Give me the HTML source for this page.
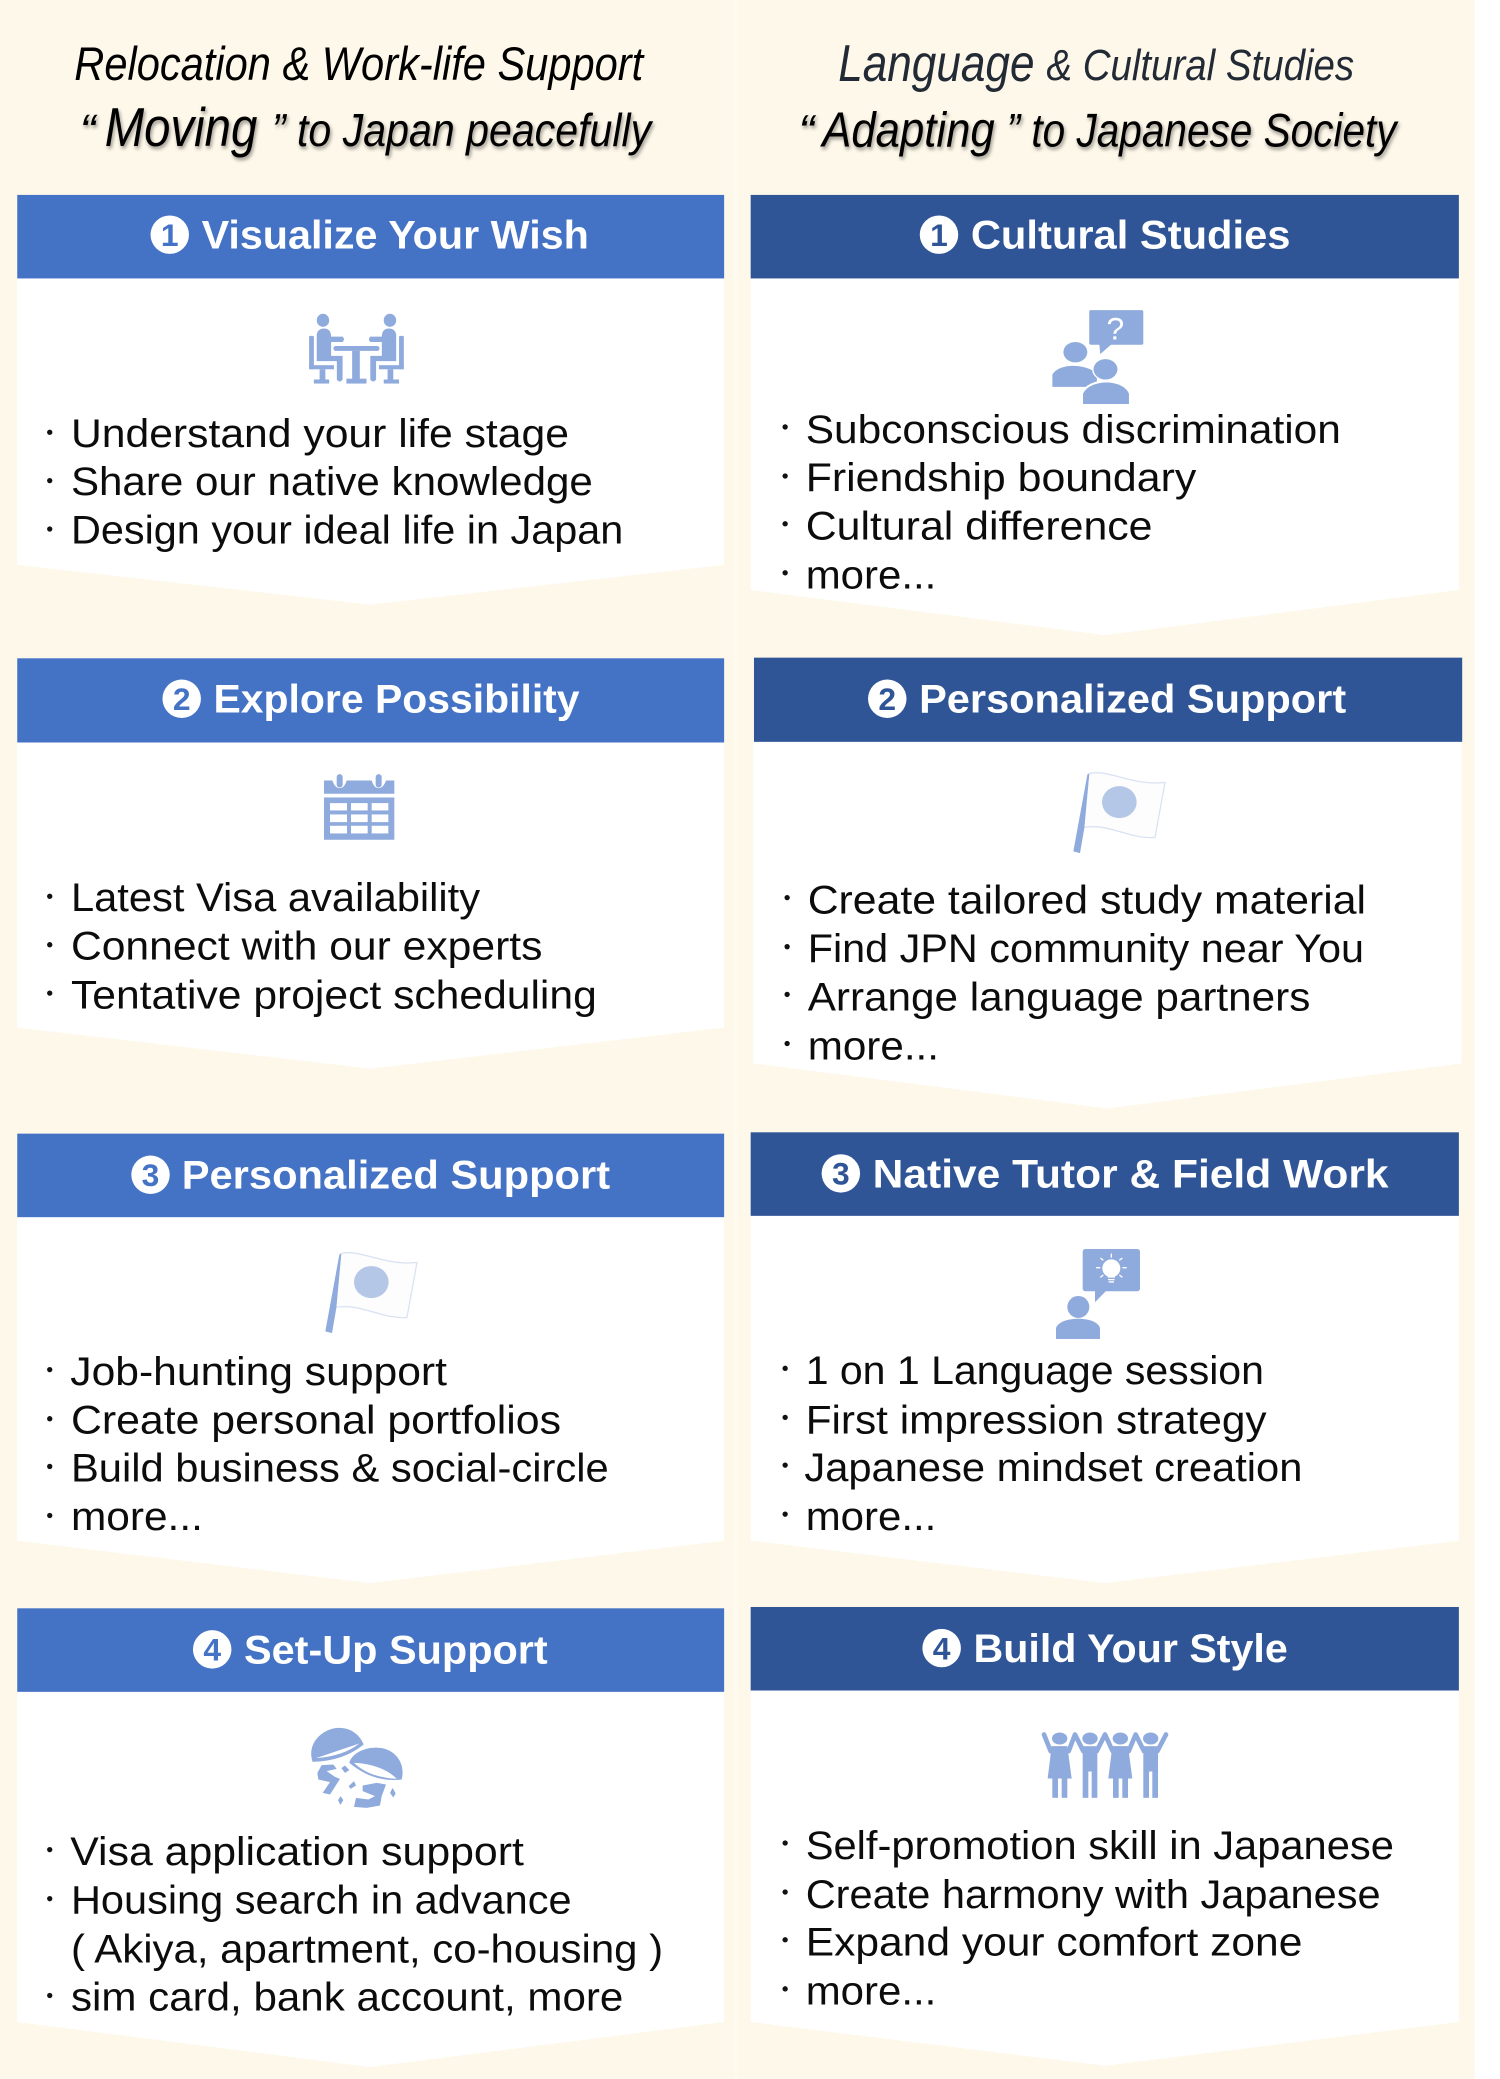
<!DOCTYPE html>
<html><head><meta charset="utf-8"><title>Support</title>
<style>
html,body{margin:0;padding:0;background:#fff}
svg{display:block;position:absolute;left:0;top:0}
text{font-family:"Liberation Sans",sans-serif}
.b{font-size:30px;fill:#0c0c0c}
.h{font-size:30px;font-weight:700;fill:#fff}
.n{font-size:24px;font-weight:700;text-anchor:middle}
.t{font-style:italic;fill:#000}
.s{filter:drop-shadow(1.5px 2px 1.5px rgba(0,0,0,.4))}
.i{fill:#8FAADC}
</style></head><body>
<svg xmlns="http://www.w3.org/2000/svg" width="1500" height="2079" viewBox="0 0 1131 1568" preserveAspectRatio="none">
<rect width="1131" height="1568" fill="#fff"/>
<rect width="1112" height="1568" fill="#FEF8EA"/>
<rect x="553" width="3" height="1568" fill="#FFFAF0"/>

<!-- headings -->
<text class="t" x="56" y="60.5" font-size="36" textLength="429" lengthAdjust="spacingAndGlyphs">Relocation &amp; Work-life Support</text>
<g class="s">
<text class="t" x="60" y="110" font-size="34" textLength="12" lengthAdjust="spacingAndGlyphs">“</text>
<text class="t" x="79" y="110" font-size="41" textLength="115" lengthAdjust="spacingAndGlyphs">Moving</text>
<text class="t" x="205" y="110" font-size="35" textLength="286" lengthAdjust="spacingAndGlyphs">” to Japan peacefully</text>
</g>
<text class="t" style="fill:#222A35" x="632" y="61" font-size="39" textLength="148" lengthAdjust="spacingAndGlyphs">Language</text>
<text class="t" style="fill:#222A35" x="789" y="60.500" font-size="33" textLength="232" lengthAdjust="spacingAndGlyphs">&amp; Cultural Studies</text>
<g class="s">
<text class="t" x="602" y="110.500" font-size="34" textLength="12" lengthAdjust="spacingAndGlyphs">“</text>
<text class="t" x="620" y="110.500" font-size="37" textLength="130" lengthAdjust="spacingAndGlyphs">Adapting</text>
<text class="t" x="759" y="110.500" font-size="36" textLength="294" lengthAdjust="spacingAndGlyphs">” to Japanese Society</text>
</g>

<!-- white card bodies -->
<g fill="#fff">
<polygon points="13,210 546,210 546,426 279,456 13,426"/>
<polygon points="13,560 546,560 546,775 279,806 13,775"/>
<polygon points="13,918 546,918 546,1162 279,1194 13,1162"/>
<polygon points="13,1276 546,1276 546,1525 279,1559 13,1525"/>
<polygon points="566,210 1100,210 1100,445 833,479 566,445"/>
<polygon points="568,559 1102,559 1102,802 835,836 568,802"/>
<polygon points="566,917 1100,917 1100,1162 833,1194 566,1162"/>
<polygon points="566,1275 1100,1275 1100,1525 833,1558 566,1525"/>
</g>

<!-- banners -->
<g fill="#4472C4">
<rect x="13" y="147" width="533" height="63"/>
<rect x="13" y="496.500" width="533" height="63.500"/>
<rect x="13" y="855" width="533" height="63"/>
<rect x="13" y="1213" width="533" height="63"/>
</g>
<g fill="#2F5597">
<rect x="566" y="147" width="534" height="63"/>
<rect x="568.500" y="496" width="534" height="63.500"/>
<rect x="566" y="854" width="534" height="63"/>
<rect x="566" y="1212" width="534" height="63"/>
</g>

<!-- banner labels -->
<g fill="#fff">
<circle cx="128" cy="177" r="14.500"/><circle cx="137" cy="527" r="14.500"/><circle cx="113.500" cy="886" r="14.500"/><circle cx="160" cy="1244" r="14.500"/>
<circle cx="708" cy="177" r="14.500"/><circle cx="669" cy="527" r="14.500"/><circle cx="634" cy="885" r="14.500"/><circle cx="710" cy="1243" r="14.500"/>
</g>
<g>
<text class="n" fill="#4472C4" x="128" y="185.500">1</text>
<text class="n" fill="#4472C4" x="137" y="535.500">2</text>
<text class="n" fill="#4472C4" x="113.500" y="894.500">3</text>
<text class="n" fill="#4472C4" x="160" y="1252.500">4</text>
<text class="n" fill="#2F5597" x="708" y="185.500">1</text>
<text class="n" fill="#2F5597" x="669" y="535.500">2</text>
<text class="n" fill="#2F5597" x="634" y="893.500">3</text>
<text class="n" fill="#2F5597" x="710" y="1251.500">4</text>
</g>
<text class="h" x="152" y="187.500" textLength="292" lengthAdjust="spacingAndGlyphs">Visualize Your Wish</text>
<text class="h" x="161" y="537.500" textLength="276" lengthAdjust="spacingAndGlyphs">Explore Possibility</text>
<text class="h" x="137" y="896.500" textLength="323" lengthAdjust="spacingAndGlyphs">Personalized Support</text>
<text class="h" x="184" y="1254.500" textLength="229" lengthAdjust="spacingAndGlyphs">Set-Up Support</text>
<text class="h" x="732" y="187.500" textLength="241" lengthAdjust="spacingAndGlyphs">Cultural Studies</text>
<text class="h" x="693" y="537.500" textLength="322" lengthAdjust="spacingAndGlyphs">Personalized Support</text>
<text class="h" x="658" y="895.500" textLength="389" lengthAdjust="spacingAndGlyphs">Native Tutor &amp; Field Work</text>
<text class="h" x="734" y="1253.500" textLength="237" lengthAdjust="spacingAndGlyphs">Build Your Style</text>

<!-- bullets -->
<g fill="#111">
<circle cx="37.500" cy="326" r="2"/><circle cx="37.500" cy="362.500" r="2"/><circle cx="37.500" cy="399" r="2"/>
<circle cx="37.500" cy="676" r="2"/><circle cx="37.500" cy="712.500" r="2"/><circle cx="37.500" cy="749" r="2"/>
<circle cx="37.500" cy="1033" r="2"/><circle cx="37.500" cy="1070" r="2"/><circle cx="37.500" cy="1106" r="2"/><circle cx="37.500" cy="1143" r="2"/>
<circle cx="37.500" cy="1395" r="2"/><circle cx="37.500" cy="1432" r="2"/><circle cx="37.500" cy="1505" r="2"/>
<circle cx="592" cy="322" r="2"/><circle cx="592" cy="359" r="2"/><circle cx="592" cy="395" r="2"/><circle cx="592" cy="432" r="2"/>
<circle cx="593.500" cy="677" r="2"/><circle cx="593.500" cy="714" r="2"/><circle cx="593.500" cy="750" r="2"/><circle cx="593.500" cy="787" r="2"/>
<circle cx="592" cy="1032" r="2"/><circle cx="592" cy="1069" r="2"/><circle cx="592" cy="1105" r="2"/><circle cx="592" cy="1142" r="2"/>
<circle cx="592" cy="1390" r="2"/><circle cx="592" cy="1427" r="2"/><circle cx="592" cy="1463" r="2"/><circle cx="592" cy="1500" r="2"/>
</g>

<!-- left body text -->
<text class="b" x="53.500" y="337" textLength="375.500" lengthAdjust="spacingAndGlyphs">Understand your life stage</text>
<text class="b" x="53.500" y="373.500" textLength="393.500" lengthAdjust="spacingAndGlyphs">Share our native knowledge</text>
<text class="b" x="53.500" y="410" textLength="416.500" lengthAdjust="spacingAndGlyphs">Design your ideal life in Japan</text>
<text class="b" x="53.500" y="687" textLength="308.500" lengthAdjust="spacingAndGlyphs">Latest Visa availability</text>
<text class="b" x="53.500" y="723.500" textLength="355.500" lengthAdjust="spacingAndGlyphs">Connect with our experts</text>
<text class="b" x="53.500" y="760.500" textLength="396.500" lengthAdjust="spacingAndGlyphs">Tentative project scheduling</text>
<text class="b" x="53" y="1044.500" textLength="284" lengthAdjust="spacingAndGlyphs">Job-hunting support</text>
<text class="b" x="53.500" y="1081" textLength="369.500" lengthAdjust="spacingAndGlyphs">Create personal portfolios</text>
<text class="b" x="53.500" y="1117.500" textLength="405.500" lengthAdjust="spacingAndGlyphs">Build business &amp; social-circle</text>
<text class="b" x="53.500" y="1154" textLength="99.500" lengthAdjust="spacingAndGlyphs">more...</text>
<text class="b" x="53" y="1406.500" textLength="342" lengthAdjust="spacingAndGlyphs">Visa application support</text>
<text class="b" x="53.500" y="1443" textLength="377.500" lengthAdjust="spacingAndGlyphs">Housing search in advance</text>
<text class="b" x="53.500" y="1480" textLength="446.500" lengthAdjust="spacingAndGlyphs">( Akiya, apartment, co-housing )</text>
<text class="b" x="53.500" y="1516.500" textLength="416.500" lengthAdjust="spacingAndGlyphs">sim card, bank account, more</text>

<!-- right body text -->
<text class="b" x="607.500" y="334" textLength="403.500" lengthAdjust="spacingAndGlyphs">Subconscious discrimination</text>
<text class="b" x="607.500" y="370.500" textLength="294.500" lengthAdjust="spacingAndGlyphs">Friendship boundary</text>
<text class="b" x="607.500" y="407" textLength="261.500" lengthAdjust="spacingAndGlyphs">Cultural difference</text>
<text class="b" x="607.500" y="444" textLength="98.500" lengthAdjust="spacingAndGlyphs">more...</text>
<text class="b" x="609" y="689" textLength="421" lengthAdjust="spacingAndGlyphs">Create tailored study material</text>
<text class="b" x="609" y="725.500" textLength="419.500" lengthAdjust="spacingAndGlyphs">Find JPN community near You</text>
<text class="b" x="609" y="762" textLength="379" lengthAdjust="spacingAndGlyphs">Arrange language partners</text>
<text class="b" x="609" y="799" textLength="99" lengthAdjust="spacingAndGlyphs">more...</text>
<text class="b" x="607.500" y="1044" textLength="345.500" lengthAdjust="spacingAndGlyphs">1 on 1 Language session</text>
<text class="b" x="607.500" y="1081" textLength="347.500" lengthAdjust="spacingAndGlyphs">First impression strategy</text>
<text class="b" x="606.500" y="1117" textLength="375.500" lengthAdjust="spacingAndGlyphs">Japanese mindset creation</text>
<text class="b" x="607.500" y="1154" textLength="98.500" lengthAdjust="spacingAndGlyphs">more...</text>
<text class="b" x="607.500" y="1402" textLength="443.500" lengthAdjust="spacingAndGlyphs">Self-promotion skill in Japanese</text>
<text class="b" x="607.500" y="1439" textLength="433.500" lengthAdjust="spacingAndGlyphs">Create harmony with Japanese</text>
<text class="b" x="607.500" y="1475" textLength="374.500" lengthAdjust="spacingAndGlyphs">Expand your comfort zone</text>
<text class="b" x="607.500" y="1512" textLength="98.500" lengthAdjust="spacingAndGlyphs">more...</text>

<!-- meeting icon -->
<g class="i" transform="scale(.75400) scale(.47847 .40816)">
<ellipse cx="675" cy="785" rx="13" ry="16"/><ellipse cx="815" cy="785" rx="13" ry="16"/>
<rect x="697" y="848" width="96" height="12" rx="5"/><rect x="736" y="860" width="16" height="70"/><rect x="724" y="928" width="42" height="12"/>
<path d="M662 820 Q664 805 678 805 Q692 806 692 825 H716 Q722 832 716 838 H692 V848 H692 V872 H716 V930 Q710 940 704 930 V885 H662Z"/>
<rect x="646" y="823" width="10" height="82" rx="3"/><rect x="646" y="895" width="52" height="10"/><rect x="668" y="905" width="12" height="27"/><rect x="656" y="930" width="32" height="10"/>
<path d="M828 820 Q826 805 812 805 Q798 806 798 825 H774 Q768 832 774 838 H798 V872 H774 V930 Q780 940 786 930 V885 H828Z"/>
<rect x="834" y="823" width="10" height="82" rx="3"/><rect x="792" y="895" width="52" height="10"/><rect x="810" y="905" width="12" height="27"/><rect x="802" y="930" width="32" height="10"/>
</g>

<!-- question icon -->
<g class="i" transform="scale(.75400) translate(750 0) scale(.47847 .40816)">
<rect x="709" y="760" width="113" height="85" rx="4"/><polygon points="730,842 732,868 757,842"/>
<circle cx="680" cy="863" r="25"/><path d="M632 948 V918 C645 890 700 890 725 915 V948Z"/>
<path d="M696 990 V965 C710 928 780 928 792 965 V990Z" stroke="#fff" stroke-width="10" paint-order="stroke"/>
<circle cx="743" cy="905" r="25" stroke="#fff" stroke-width="6" paint-order="stroke"/>
</g>
<text x="841" y="256" font-size="24" text-anchor="middle" fill="#fff">?</text>

<!-- calendar icon -->
<g transform="scale(.75400) translate(300 760) scale(.33333)">
<g class="i">
<path d="M72 62 H97 Q105 85 119 85 Q133 85 140 62 H215 Q222 85 236 85 Q250 85 258 62 H283 V102 H72Z"/>
<rect x="72" y="113" width="211" height="127"/>
<rect x="110" y="43" width="18" height="40" rx="9"/><rect x="227" y="43" width="18" height="40" rx="9"/>
</g>
<g fill="#fff">
<rect x="90" y="130" width="51" height="22"/><rect x="153" y="130" width="50" height="22"/><rect x="215" y="130" width="50" height="22"/>
<rect x="90" y="164" width="51" height="23"/><rect x="153" y="164" width="50" height="23"/><rect x="215" y="164" width="50" height="23"/>
<rect x="90" y="198" width="51" height="23"/><rect x="153" y="198" width="50" height="23"/><rect x="215" y="198" width="50" height="23"/>
</g>
</g>

<!-- flag icons -->
<g transform="scale(.75400) translate(1050 750) scale(.33333)">
<path d="M115 72 C170 55 250 110 345 98 L315 263 C240 270 170 215 90 235 Z" fill="#fdfdfe" stroke="#DAE3F3" stroke-width="4"/>
<ellipse cx="208" cy="157" rx="52" ry="48" fill="#B4C7E7"/>
<polygon class="i" points="112,75 118,72 103,235 90,310 70,305"/>
</g>
<g transform="translate(-564 362) scale(.75400) translate(1050 750) scale(.33333)">
<path d="M115 72 C170 55 250 110 345 98 L315 263 C240 270 170 215 90 235 Z" fill="#fdfdfe" stroke="#DAE3F3" stroke-width="4"/>
<ellipse cx="208" cy="157" rx="52" ry="48" fill="#B4C7E7"/>
<polygon class="i" points="112,75 118,72 103,235 90,310 70,305"/>
</g>

<!-- idea icon -->
<g transform="scale(.75400) translate(1040 1230) scale(.33333)">
<g class="i">
<rect x="128" y="58" width="172" height="127" rx="8"/><polygon points="165,180 165,218 202,180"/>
<circle cx="115" cy="232" r="33"/><path d="M48 328 V295 C60 258 170 258 180 295 V328Z"/>
</g>
<circle cx="214" cy="116" r="27" fill="#fff"/><rect x="203" y="130" width="22" height="14" fill="#fff"/>
<g stroke="#fff" stroke-width="4">
<path d="M204 150 H224 M206 157 H222 M214 72 V84 M168 114 H181 M247 114 H260 M181 85 L190 92 M247 85 L238 92 M181 143 L190 136 M247 143 L238 136" fill="none"/>
</g>
</g>

<!-- mushroom icon -->
<g transform="scale(.75400) translate(280 1700) scale(.33333)">
<g class="i">
<path d="M98 187 C78 130 130 85 178 85 C215 85 240 108 251 135 Q190 185 98 187Z"/>
<path d="M208 190 C215 160 260 140 300 145 C345 150 378 190 365 240 Q280 250 208 190Z"/>
<path d="M125 197 L160 195 L170 208 L140 215 L165 232 L180 238 L150 285 L128 280 L150 248 L115 240 L112 220Z"/>
<path d="M248 258 L290 250 L318 255 L305 290 L300 318 L260 325 L222 322 L228 295 L265 300 L285 290 L248 275Z"/>
<polygon points="195,198 208,212 195,220 184,206"/>
<polygon points="222,245 228,258 212,268 206,260"/>
<polygon points="182,290 190,302 181,316 174,302"/>
<polygon points="338,265 347,282 340,294 330,280"/>
</g>
<g fill="#fff">
<path d="M108 176 L238 132 Q190 170 108 176Z"/>
<path d="M222 190 C260 190 320 205 350 238 C300 235 255 222 222 190Z"/>
</g>
</g>

<!-- people icon -->
<g transform="scale(.75400) translate(1020 1700) scale(.33333)">
<g class="i">
<ellipse cx="119" cy="117" rx="23" ry="18"/><ellipse cx="210" cy="117" rx="23" ry="18"/><ellipse cx="301" cy="117" rx="23" ry="18"/><ellipse cx="392" cy="117" rx="23" ry="18"/>
<path d="M95 140 H142 L155 237 H83Z"/><rect x="97" y="237" width="17" height="58"/><rect x="125" y="237" width="17" height="58"/>
<rect x="188" y="140" width="44" height="76"/><rect x="188" y="214" width="17" height="81"/><rect x="215" y="214" width="17" height="81"/>
<path d="M277 140 H324 L337 237 H265Z"/><rect x="279" y="237" width="17" height="58"/><rect x="307" y="237" width="17" height="58"/>
<rect x="370" y="140" width="44" height="76"/><rect x="370" y="214" width="17" height="81"/><rect x="397" y="214" width="17" height="81"/>
</g>
<path d="M92 155 L72 105 M146 155 L165 105 L190 155 M230 155 L255 105 L278 155 M326 155 L347 105 L372 155 M412 155 L438 105" fill="none" stroke="#8FAADC" stroke-width="14" stroke-linecap="round" stroke-linejoin="round"/>
</g>
</svg>
</body></html>
